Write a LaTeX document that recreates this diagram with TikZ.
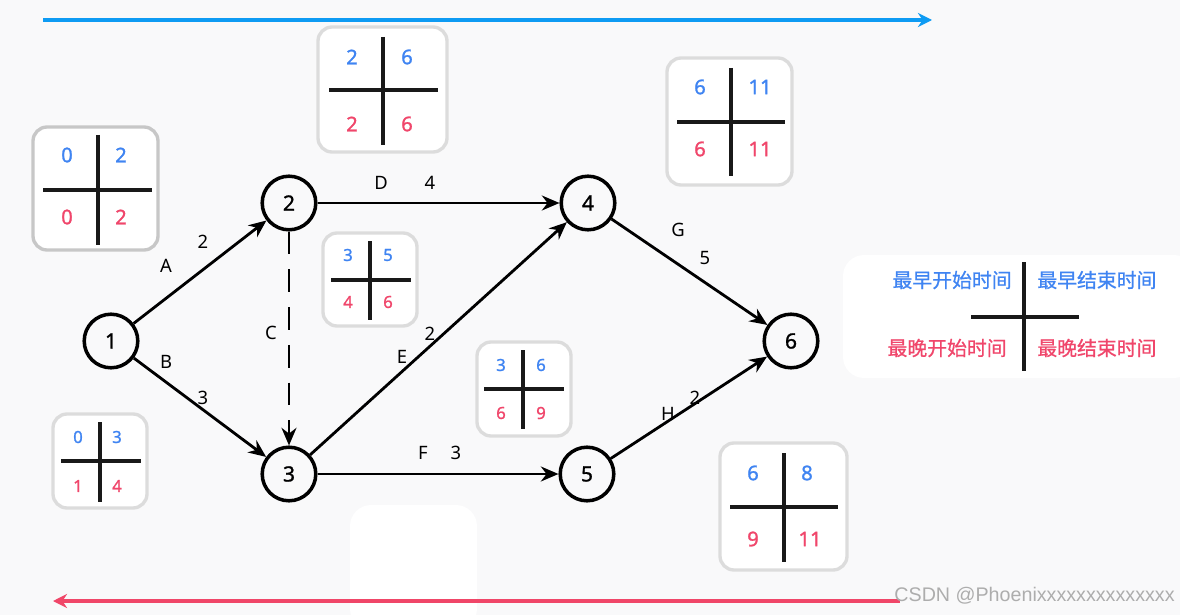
\documentclass[tikz,border=0pt]{standalone}
\usepackage{fontspec}
\setmainfont{Noto Sans}
\newfontfamily\numfont[FakeBold=1.2]{Noto Sans}
\newfontfamily\cjk[FakeBold=0.8]{Noto Sans CJK SC}
\newfontfamily\markfont{Liberation Sans}
\usetikzlibrary{arrows.meta}

\definecolor{bgcol}{HTML}{F9F9FA}
\definecolor{earlyblue}{HTML}{3F84F2}
\definecolor{latered}{HTML}{F0466B}
\definecolor{axisblue}{HTML}{0E9BF3}
\definecolor{axisred}{HTML}{F04668}
\definecolor{boxgray}{HTML}{DCDCDC}

\tikzset{
  event/.style={circle, draw, line width=2pt, minimum size=30.5pt, inner sep=0pt, font=\numfont\fontsize{12}{14}\selectfont},
  act/.style={line width=1.6pt, -{Stealth[length=10pt,width=8.5pt]}},
  lbl/.style={inner sep=0pt, font=\fontsize{10.5}{12}\selectfont},
  tbox/.style={draw=boxgray, line width=1.9pt, fill=white, rounded corners=8pt},
  tcross/.style={line width=1.8pt, black!90},
  big/.style={inner sep=0pt, font=\numfont\fontsize{11.5}{13}\selectfont},
  small/.style={inner sep=0pt, font=\numfont\fontsize{9.5}{11}\selectfont},
  early/.style={text=earlyblue},
  late/.style={text=latered},
  legend/.style={inner sep=0pt, font=\cjk\fontsize{11.3}{13}\selectfont}
}

\begin{document}
\begin{tikzpicture}[x=0.02cm,y=-0.02cm]
  \fill [bgcol] (0,0) rectangle (1180,615);
  \useasboundingbox (0,0) rectangle (1180,615);

  % blank patches
  \fill [white, rounded corners=12pt] (350,505) rectangle (477,630);
  \fill [white, rounded corners=12pt] (843,255) rectangle (1195,378);

  % time axes
  \coordinate (tstart) at (43,20);
  \coordinate (tend) at (932,20);
  \draw [axisblue, line width=2.2pt, -{Stealth[length=8pt,width=8pt]}] (tstart) -- (tend);
  \coordinate (bstart) at (900,601);
  \coordinate (bend) at (53,601);
  \draw [axisred, line width=2.2pt, -{Stealth[length=8pt,width=8pt]}] (bstart) -- (bend);

  % events
  \node [event] (n1) at (111,341) {1};
  \node [event] (n2) at (289,203) {2};
  \node [event] (n3) at (289,474) {3};
  \node [event] (n4) at (588,203) {4};
  \node [event] (n5) at (587,474) {5};
  \node [event] (n6) at (791,341) {6};

  % activities
  \draw [act] (n1) -- (n2);
  \draw [act] (n1) -- (n3);
  \draw [act, dash pattern=on 13pt off 8.5pt] (n2) -- (n3);
  \draw [act] (n2) -- (n4);
  \draw [act] (n3) -- (n4);
  \draw [act] (n3) -- (n5);
  \draw [act] (n4) -- (n6);
  \draw [act] (n5) -- (n6);

  \node [lbl] (lA) at (166,266) {A};
  \node [lbl] (dA) at (203,242) {2};
  \node [lbl] (lB) at (166,362) {B};
  \node [lbl] (dB) at (203,398) {3};
  \node [lbl] (lC) at (271,333) {C};
  \node [lbl] (lD) at (381,183) {D};
  \node [lbl] (dD) at (430,183) {4};
  \node [lbl] (lE) at (402,357) {E};
  \node [lbl] (dE) at (430,334) {2};
  \node [lbl] (lF) at (423,453) {F};
  \node [lbl] (dF) at (456,453) {3};
  \node [lbl] (lG) at (678,230) {G};
  \node [lbl] (dG) at (705,258) {5};
  \node [lbl] (lH) at (668,414) {H};
  \node [lbl] (dH) at (695,398) {2};

  % event 1 times
  \draw [tbox, draw=black!22] (33,127) rectangle (158,250);
  \draw [tcross] (98,135) -- (98,245);
  \draw [tcross] (43,190) -- (152,190);
  \node [big, early] (t1es) at (67,155) {0};
  \node [big, early] (t1ef) at (121,155) {2};
  \node [big, late] (t1ls) at (67,217) {0};
  \node [big, late] (t1lf) at (121,217) {2};

  % event 2 times
  \draw [tbox] (318,27) rectangle (447,152);
  \draw [tcross] (383,37) -- (383,145);
  \draw [tcross] (329,90) -- (438,90);
  \node [big, early] (t2es) at (352,57) {2};
  \node [big, early] (t2ef) at (407,57) {6};
  \node [big, late] (t2ls) at (352,124) {2};
  \node [big, late] (t2lf) at (407,124) {6};

  % event 4 times
  \draw [tbox] (667,58) rectangle (792,185);
  \draw [tcross] (731,68) -- (731,176);
  \draw [tcross] (677,122) -- (785,122);
  \node [big, early] (t4es) at (700,87) {6};
  \node [big, early] (t4ef) at (760,87) {11};
  \node [big, late] (t4ls) at (700,149) {6};
  \node [big, late] (t4lf) at (760,149) {11};

  % activity C times
  \draw [tbox] (323,233) rectangle (417,326);
  \draw [tcross] (370,241) -- (370,320);
  \draw [tcross] (331,280) -- (411,280);
  \node [small, early] (tCes) at (348,255) {3};
  \node [small, early] (tCef) at (388,255) {5};
  \node [small, late] (tCls) at (348,302) {4};
  \node [small, late] (tClf) at (388,302) {6};

  % activity B times
  \draw [tbox] (53,414) rectangle (147,508);
  \draw [tcross] (100,422) -- (100,502);
  \draw [tcross] (61,461) -- (141,461);
  \node [small, early] (tBes) at (78,437) {0};
  \node [small, early] (tBef) at (117,437) {3};
  \node [small, late] (tBls) at (78,486) {1};
  \node [small, late] (tBlf) at (117,486) {4};

  % activity F times
  \draw [tbox] (477,342) rectangle (571,436);
  \draw [tcross] (523,350) -- (523,429);
  \draw [tcross] (484,389) -- (564,389);
  \node [small, early] (tFes) at (501,365) {3};
  \node [small, early] (tFef) at (541,365) {6};
  \node [small, late] (tFls) at (501,413) {6};
  \node [small, late] (tFlf) at (541,413) {9};

  % event 5 times
  \draw [tbox] (720,443) rectangle (847,570);
  \draw [tcross] (784,453) -- (784,562);
  \draw [tcross] (730,507) -- (838,507);
  \node [big, early] (t5es) at (753,473) {6};
  \node [big, early] (t5ef) at (807,473) {8};
  \node [big, late] (t5ls) at (753,539) {9};
  \node [big, late] (t5lf) at (810,539) {11};

  % legend
  \draw [tcross] (1024,262) -- (1024,371);
  \draw [tcross] (971,317) -- (1079,317);
  \node [legend, early, anchor=east] (kes) at (1012,280) {最早开始时间};
  \node [legend, early, anchor=west] (kef) at (1037,280) {最早结束时间};
  \node [legend, late, anchor=east] (kls) at (1007,348) {最晚开始时间};
  \node [legend, late, anchor=west] (klf) at (1037,348) {最晚结束时间};

  % watermark
  \node [anchor=east, inner sep=0pt, text=black!32, font=\markfont\fontsize{11.2}{13}\selectfont] (mark) at (1175,596) {CSDN @Phoenixxxxxxxxxxxxxx};
\end{tikzpicture}
\end{document}
